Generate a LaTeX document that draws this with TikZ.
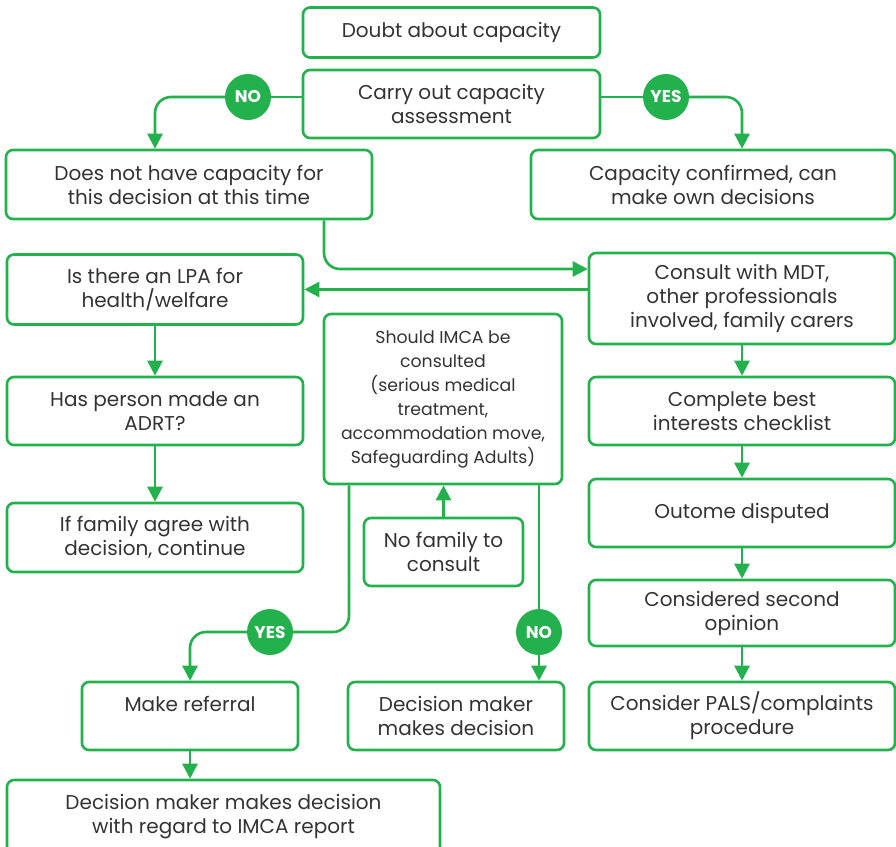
\documentclass[tikz,border=0pt]{standalone}
\usepackage{fontspec}
\setmainfont{Poppins}
\usetikzlibrary{arrows.meta}
\definecolor{mcagreen}{HTML}{22B14C}
\definecolor{mcatext}{HTML}{333333}
\tikzset{
  box/.style={draw=mcagreen, line width=2.6pt, rounded corners=7pt, text=mcatext,
    align=center, inner sep=0pt, font=\fontsize{20}{24}\selectfont},
  smallbox/.style={box, font=\fontsize{17.3}{24}\selectfont},
  badge/.style={circle, fill=mcagreen, text=white, inner sep=0pt, minimum size=46pt,
    font=\fontsize{17}{17}\selectfont\bfseries},
  link/.style={draw=mcagreen, line width=2.6pt, rounded corners=16pt},
  flow/.style={link, -{Triangle[length=15pt,width=15pt]}},
}
\begin{document}
\begin{tikzpicture}[x=1pt,y=-1pt]
  \useasboundingbox (0,0) rectangle (896,846);
  % boxes
  \node[box, minimum width=297pt, minimum height=50pt] (doubt) at (451.5,32.5) {Doubt about capacity};
  \node[box, minimum width=297pt, minimum height=68pt] (assess) at (451.5,104) {Carry out capacity\\assessment};
  \node[box, minimum width=366pt, minimum height=69pt] (nocap) at (189,184.5) {Does not have capacity for\\this decision at this time};
  \node[box, minimum width=364pt, minimum height=69pt] (cap) at (713,184.5) {Capacity confirmed, can\\make own decisions};
  \node[box, minimum width=296pt, minimum height=70pt] (lpa) at (155,289.5) {Is there an LPA for\\health/welfare};
  \node[box, minimum width=306pt, minimum height=91pt] (mdt) at (742,298.5) {Consult with MDT,\\other professionals\\involved, family carers};
  \node[smallbox, minimum width=238pt, minimum height=170pt] (imca) at (443,399) {Should IMCA be\\consulted\\(serious medical\\treatment,\\accommodation move,\\Safeguarding Adults)};
  \node[box, minimum width=296pt, minimum height=68pt] (adrt) at (155,411) {Has person made an\\ADRT?};
  \node[box, minimum width=306pt, minimum height=68pt] (best) at (742,411) {Complete best\\interests checklist};
  \node[box, minimum width=159pt, minimum height=68pt] (nofam) at (443.5,552) {No family to\\consult};
  \node[box, minimum width=296pt, minimum height=69pt] (agree) at (155,537.5) {If family agree with\\decision, continue};
  \node[box, minimum width=306pt, minimum height=68pt] (disputed) at (742,513) {Outome disputed};
  \node[box, minimum width=306pt, minimum height=66pt] (second) at (742,613) {Considered second\\opinion};
  \node[box, minimum width=216pt, minimum height=68pt] (referral) at (190,716) {Make referral\\{}};
  \node[box, minimum width=216pt, minimum height=68pt] (maker) at (456,716) {Decision maker\\makes decision};
  \node[box, minimum width=306pt, minimum height=68pt] (pals) at (742,716) {Consider PALS/complaints\\procedure};
  \node[box, minimum width=433pt, minimum height=74pt] (report) at (223.5,817) {Decision maker makes decision\\with regard to IMCA report};

  % yes / no badges
  \node[badge] (no1) at (248,97) {NO};
  \node[badge] (yes1) at (666,97) {YES};
  \node[badge] (yes2) at (270,632) {YES};
  \node[badge] (no2) at (539,632) {NO};

  % connectors
  \draw[link] (assess.west |- no1) -- (no1.east);
  \draw[flow] (no1.west) -| (nocap.north -| lpa.north);
  \draw[link] (assess.east |- yes1) -- (yes1.west);
  \draw[flow] (yes1.east) -| (cap.north -| mdt.north);
  \draw[flow] ([xshift=135pt]nocap.south) |- ([yshift=29.5pt]mdt.west);
  \draw[flow] (mdt.west |- lpa.east) -- (lpa.east);
  \draw[flow] (lpa.south) -- (adrt.north);
  \draw[flow] (adrt.south) -- (agree.north);
  \draw[flow] (mdt.south) -- (best.north);
  \draw[flow] (best.south) -- (disputed.north);
  \draw[flow] (disputed.south) -- (second.north);
  \draw[flow] (second.south) -- (pals.north);
  \draw[flow] (nofam.north) -- (nofam.north |- imca.south);
  \draw[link] ([xshift=-94pt]imca.south) |- (yes2.east);
  \draw[flow] (yes2.west) -| (referral.north);
  \draw[link] ([xshift=96pt]imca.south) -- (no2.north);
  \draw[flow] (no2.south) -- (no2 |- maker.north);
  \draw[flow] (referral.south) -- (referral.south |- report.north);
\end{tikzpicture}
\end{document}
